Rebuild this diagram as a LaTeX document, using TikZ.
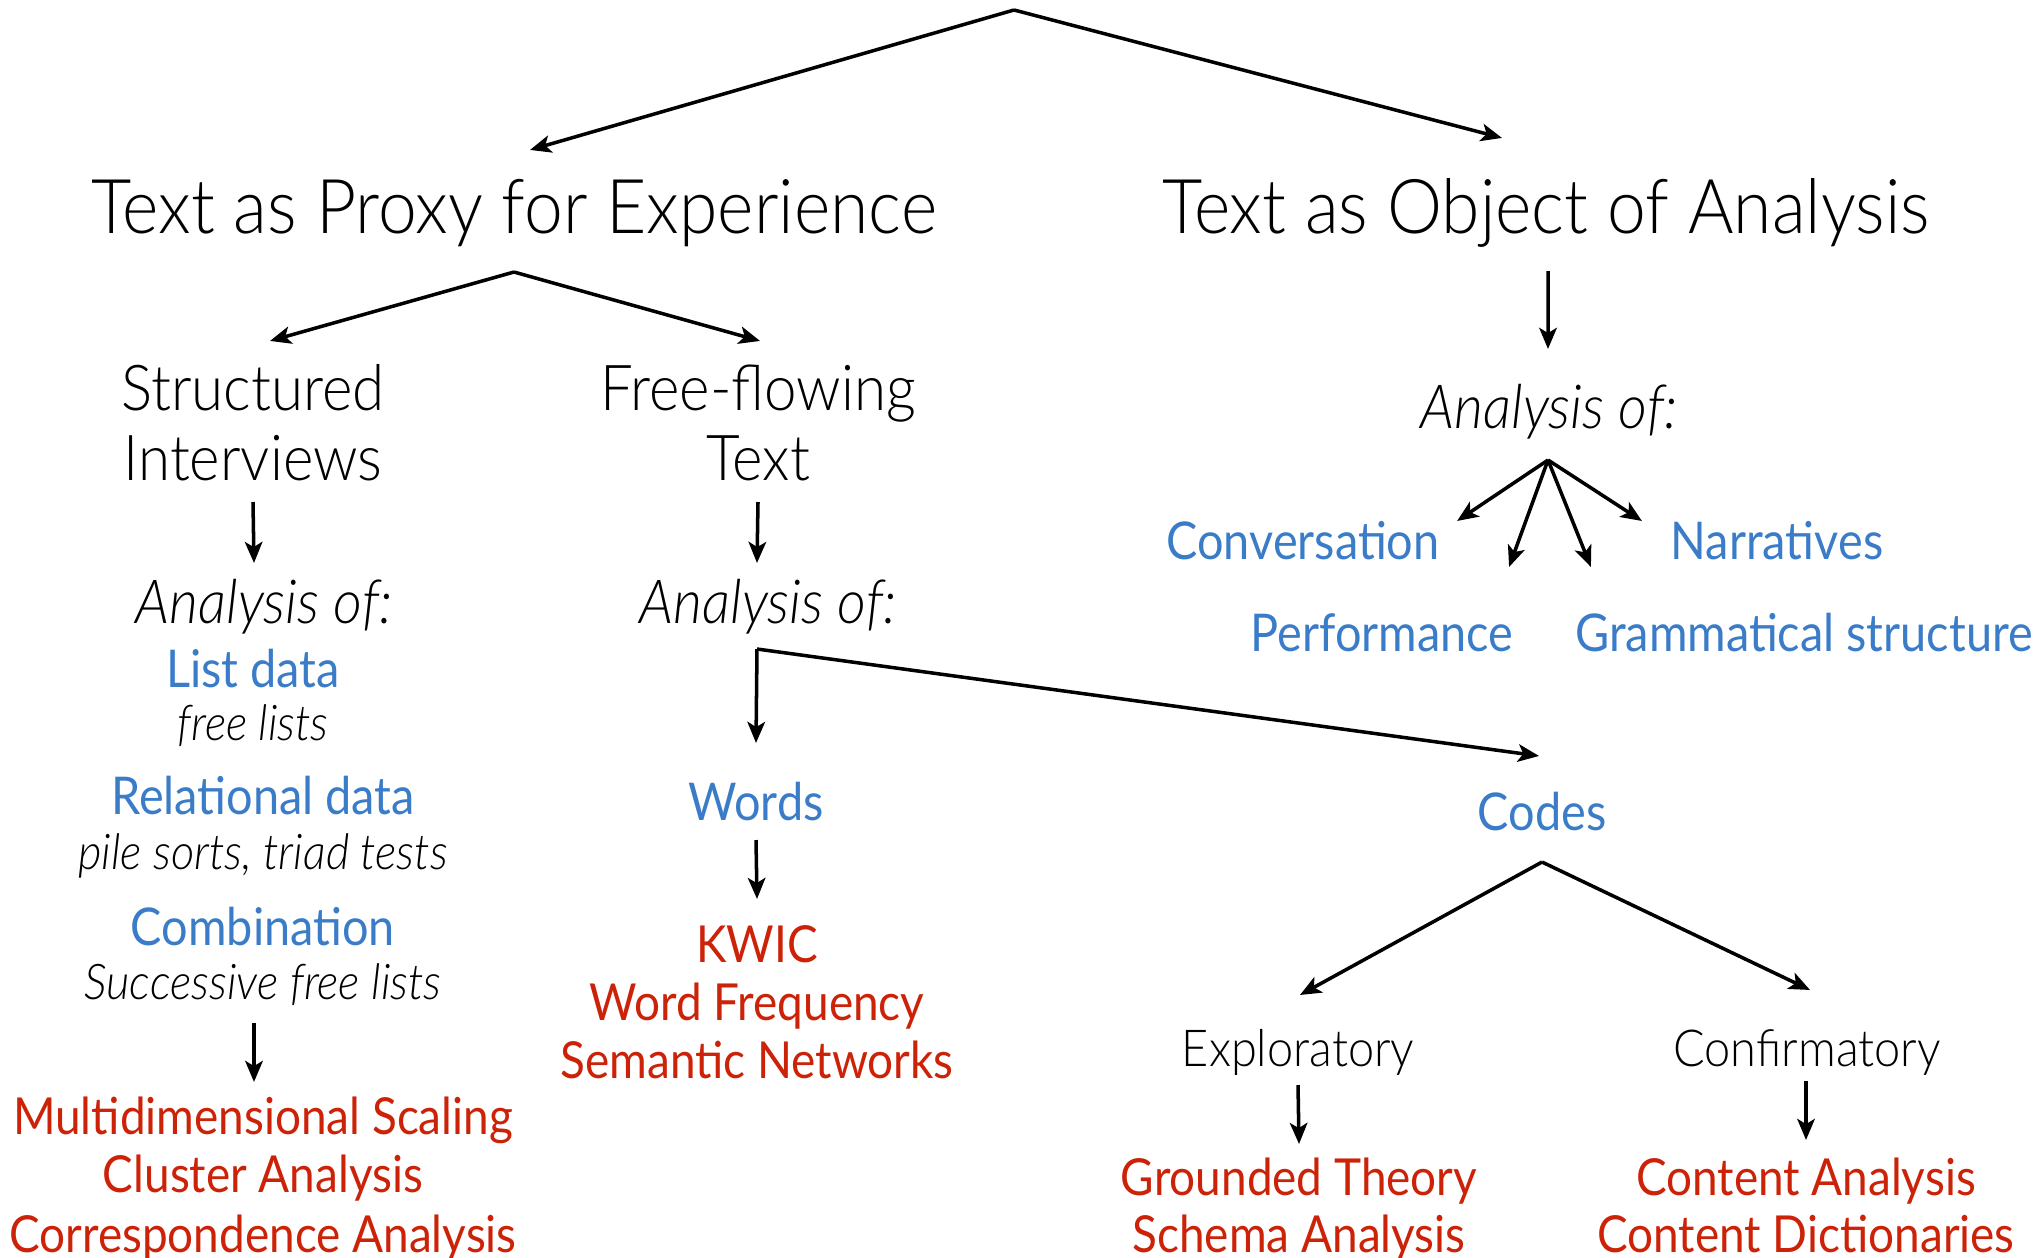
\documentclass[tikz,border=0pt]{standalone}
\usepackage{fontspec}
\setmainfont{Lato}[FakeStretch=0.90]
\newfontfamily\lightfont{Lato Light}[FakeStretch=0.92]
\usetikzlibrary{arrows.meta}
\definecolor{catblue}{RGB}{58,124,200}
\definecolor{methred}{RGB}{204,34,8}
\tikzset{
  arr/.style={-{Stealth[length=6pt,width=5pt,inset=1.5pt]}, line width=1pt},
  txt/.style={inner sep=0pt, anchor=base},
  head/.style={txt, font=\lightfont\fontsize{21.5}{25}\selectfont},
  sub/.style={txt, font=\lightfont\fontsize{18}{21}\selectfont},
  ana/.style={txt, font=\lightfont\itshape\fontsize{17.3}{21}\selectfont},
  note/.style={txt, font=\lightfont\itshape\fontsize{14}{17}\selectfont},
  kind/.style={txt, font=\lightfont\fontsize{14.5}{17}\selectfont},
  cat/.style={txt, text=catblue, font=\fontsize{14.8}{17}\selectfont},
  meth/.style={txt, text=methred, font=\fontsize{14.5}{17}\selectfont}
}
\begin{document}
\begin{tikzpicture}[x=0.01cm,y=-0.01cm]
\useasboundingbox (0,0) rectangle (2043,1258);

\node[head] (proxy) at (514,234) {Text as Proxy for Experience};
\node[head] (object) at (1546,234) {Text as Object of Analysis};

\node[sub] (struct) at (253,410) {Structured};
\node[sub] (struct2) at (253,480) {Interviews};
\node[sub] (free) at (758,410) {Free-flowing};
\node[sub] (free2) at (758,480) {Text};

\node[ana] (anaA) at (264,623) {Analysis of:};
\node[ana] (anaB) at (768,623) {Analysis of:};
\node[ana] (anaC) at (1549,429) {Analysis of:};

\node[cat] (list) at (253,687) {List data};
\node[note] (listnote) at (253,740) {free lists};
\node[cat] (rel) at (263,814) {Relational data};
\node[note] (relnote) at (263,869) {pile sorts, triad tests};
\node[cat] (comb) at (263,945) {Combination};
\node[note] (combnote) at (263,999) {Successive free lists};
\foreach \t/\y [count=\i] in {Multidimensional Scaling/1134,Cluster Analysis/1192,Correspondence Analysis/1252}
  \node[meth] (mds\i) at (263,\y) {\t};

\node[cat] (words) at (756,820) {Words};
\foreach \t/\y [count=\i] in {KWIC/962,Word Frequency/1020,Semantic Networks/1078}
  \node[meth] (kw\i) at (757,\y) {\t};

\node[cat] (codes) at (1542,830) {Codes};
\node[kind] (explor) at (1298,1066) {Exploratory};
\node[kind] (confirm) at (1807,1066) {Confirmatory};
\foreach \t/\y [count=\i] in {Grounded Theory/1195,Schema Analysis/1252}
  \node[meth] (gt\i) at (1299,\y) {\t};
\foreach \t/\y [count=\i] in {Content Analysis/1195,Content Dictionaries/1252}
  \node[meth] (ca\i) at (1806,\y) {\t};

\node[cat] (conv) at (1303,559) {Conversation};
\node[cat] (narr) at (1777,559) {Narratives};
\node[cat] (perf) at (1382,651) {Performance};
\node[cat] (gram) at (1804,651) {Grammatical structure};

\coordinate (root) at (1014,10);
\draw[arr] (root) -- ([shift={(0.16cm,0.84cm)}]proxy.base);
\draw[arr] (root) -- ([shift={(-0.44cm,0.96cm)}]object.base);

\coordinate (proxysplit) at ([yshift=-0.38cm]proxy.base);
\draw[arr] (proxysplit) -- ([shift={(0.17cm,0.69cm)}]struct.base);
\draw[arr] (proxysplit) -- ([shift={(0.02cm,0.69cm)}]free.base);
\draw[arr] ([yshift=-0.22cm]struct2.base) -- ([shift={(-0.10cm,0.60cm)}]anaA.base);
\draw[arr] ([yshift=-0.22cm]free2.base) -- ([shift={(-0.11cm,0.60cm)}]anaB.base);
\draw[arr] ([shift={(-0.09cm,-0.24cm)}]combnote.base) -- ([shift={(-0.09cm,0.52cm)}]mds1.base);

\coordinate (split) at ([shift={(-0.11cm,-0.26cm)}]anaB.base);
\draw[arr] (split) -- ([yshift=0.77cm]words.base);
\draw[arr] (split) -- ([shift={(-0.03cm,0.74cm)}]codes.base);
\draw[arr] ([yshift=-0.20cm]words.base) -- ([yshift=0.63cm]kw1.base);

\coordinate (codesplit) at ([yshift=-0.32cm]codes.base);
\draw[arr] (codesplit) -- ([shift={(0.02cm,0.71cm)}]explor.base);
\draw[arr] (codesplit) -- ([shift={(0.03cm,0.76cm)}]confirm.base);
\draw[arr] ([yshift=-0.19cm]explor.base) -- ([yshift=0.51cm]gt1.base);
\draw[arr] ([shift={(-0.01cm,-0.15cm)}]confirm.base) -- ([yshift=0.55cm]ca1.base);

\draw[arr] ([shift={(0.02cm,-0.37cm)}]object.base) -- ([shift={(-0.01cm,0.80cm)}]anaC.base);
\coordinate (fan) at ([shift={(-0.01cm,-0.31cm)}]anaC.base);
\draw[arr] (fan) -- ([shift={(1.54cm,0.38cm)}]conv.base);
\draw[arr] (fan) -- ([shift={(1.27cm,0.84cm)}]perf.base);
\draw[arr] (fan) -- ([shift={(-2.13cm,0.84cm)}]gram.base);
\draw[arr] (fan) -- ([shift={(-1.35cm,0.38cm)}]narr.base);
\end{tikzpicture}
\end{document}
